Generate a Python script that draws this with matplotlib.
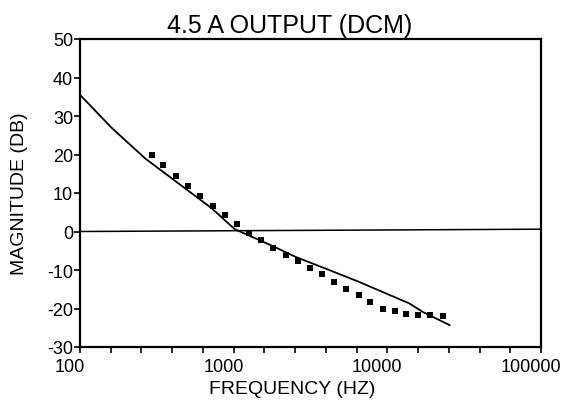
import numpy as np
import matplotlib
import matplotlib.pyplot as plt
from matplotlib.ticker import FixedLocator, NullFormatter
from matplotlib.transforms import ScaledTranslation

plt.rcParams['font.family'] = ['Liberation Sans', 'DejaVu Sans']
plt.rcParams['axes.unicode_minus'] = False

# measured points (squares)
meas_freq = [295, 348, 420, 503, 600, 729, 873, 1047, 1253, 1507, 1806, 2178,
             2619, 3124, 3744, 4487, 5395, 6492, 7739, 9313, 11160, 13250,
             15880, 19080, 22950]
meas_db = [19.8, 17.4, 14.5, 11.7, 9.2, 6.7, 4.2, 2.0, -0.3, -2.1, -4.2, -6.0,
           -7.6, -9.4, -11.1, -13.1, -15.0, -16.6, -18.3, -20.0, -20.7, -21.4,
           -21.7, -21.7, -22.0]

# model curve
model_freq = [100, 160, 265, 437, 721, 1016, 1778, 2530, 4180, 6560,
              13930, 17020, 25400]
model_db = [35.5, 27.0, 19.0, 12.5, 6.0, 0.6, -3.7, -6.6, -10.0, -13.1,
            -18.7, -20.9, -24.3]

# 0 dB reference line
ref_freq = [100, 100000]
ref_db = [0.0, 0.6]

x_ticks = [100, 1000, 10000, 100000]
x_labels = ['100', '1000', '10000', '100000']
y_ticks = [-30, -20, -10, 0, 10, 20, 30, 40, 50]

fig = plt.figure(figsize=(5.63, 4.02), dpi=100)
ax = fig.add_axes([80/563, 54/402, 461/563, 308/402])

ax.plot(ref_freq, ref_db, color='black', lw=1.1)
ax.plot(model_freq, model_db, color='black', lw=1.3)
ax.plot(meas_freq, meas_db, 's', color='black', ms=4.2, mew=0)

ax.set_xscale('log')
ax.set_xlim(100, 100000)
ax.set_ylim(-30, 50)

ax.xaxis.set_major_locator(FixedLocator(x_ticks))
ax.set_xticklabels(x_labels)
ax.xaxis.set_minor_locator(FixedLocator(10 ** np.arange(2, 5.01, 0.2)))
ax.xaxis.set_minor_formatter(NullFormatter())
ax.set_yticks(y_ticks)

ax.tick_params(axis='both', which='both', direction='out', width=1.2,
               labelsize=13, color='black')
ax.tick_params(axis='x', which='both', length=4, pad=4)
ax.tick_params(axis='y', length=4, pad=1)

offset = ScaledTranslation(-10/100, 0, fig.dpi_scale_trans)
for lab in ax.get_xticklabels():
    lab.set_transform(lab.get_transform() + offset)

for sp in ax.spines.values():
    sp.set_linewidth(1.6)

ax.set_xlabel('FREQUENCY (HZ)', fontsize=14, va='top')
ax.xaxis.set_label_coords(0.461, -0.108)
ax.set_ylabel('MAGNITUDE (DB)', fontsize=14)
ax.yaxis.set_label_coords(-0.113, 0.5)

fig.text(290/563, 0.918, '4.5 A OUTPUT (DCM)', fontsize=18, ha='center',
         va='baseline')

fig.savefig('out.png', dpi=100)
